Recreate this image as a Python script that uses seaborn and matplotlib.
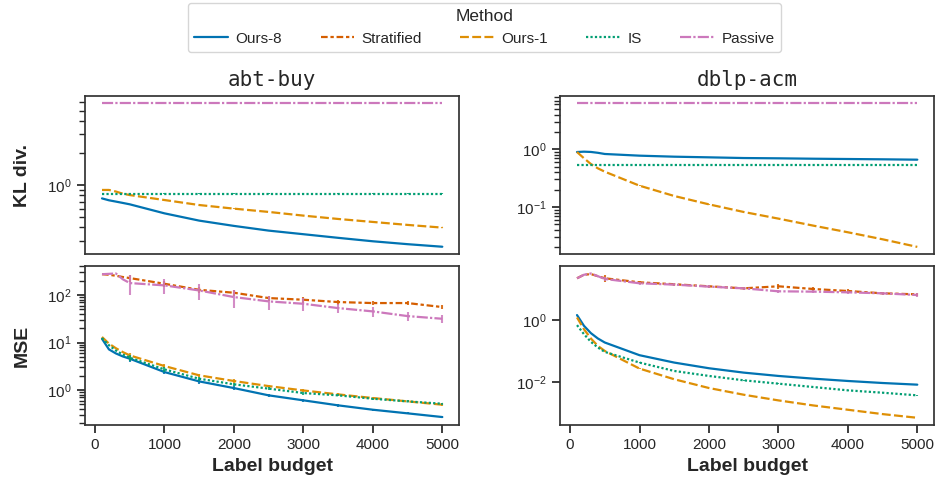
import matplotlib
matplotlib.use("Agg")
import matplotlib.pyplot as plt
from matplotlib.lines import Line2D
from matplotlib.ticker import NullLocator
import pandas as pd
import seaborn as sns

# ---------------------------------------------------------------------------
# Data
# ---------------------------------------------------------------------------
BUDGET = [100, 200, 300, 400, 500, 1000, 1500, 2000, 2500, 3000, 3500, 4000, 4500, 5000]
ERR_BUDGET = [500, 1000, 1500, 2000, 2500, 3000, 3500, 4000, 4500, 5000]

METHODS = ["Ours-8", "Stratified", "Ours-1", "IS", "Passive"]
DATASETS = ["abt-buy", "dblp-acm"]
METRICS = ["KL div.", "MSE"]
X_TICKS = [0, 1000, 2000, 3000, 4000, 5000]
DBLP_MSE_TICKS = [1e-2, 1e0]

# KL divergence on abt-buy
ABT_KL = {
    "Ours-8": [0.75, 0.72, 0.70, 0.68, 0.66, 0.543, 0.464, 0.414, 0.374, 0.346, 0.320, 0.297, 0.279, 0.264],
    "Ours-1": [0.90, 0.90, 0.87, 0.83, 0.806, 0.724, 0.650, 0.601, 0.560, 0.517, 0.481, 0.451, 0.423, 0.399],
    "IS": [0.83, 0.83, 0.83, 0.83, 0.83, 0.83, 0.83, 0.83, 0.83, 0.83, 0.83, 0.83, 0.83, 0.83],
    "Passive": [5.9, 5.9, 5.9, 5.9, 5.9, 5.9, 5.9, 5.9, 5.9, 5.9, 5.9, 5.9, 5.9, 5.9],
}
ABT_KL_ERR = {
    "Ours-8": [0.006, 0.005, 0.004, 0.004, 0.003, 0.003, 0.003, 0.003, 0.003, 0.003],
    "Ours-1": [0.004, 0.004, 0.003, 0.003, 0.003, 0.003, 0.003, 0.003, 0.003, 0.003],
    "IS": [0.004, 0.004, 0.004, 0.004, 0.004, 0.004, 0.004, 0.004, 0.004, 0.004],
    "Passive": [0.02, 0.02, 0.02, 0.02, 0.02, 0.02, 0.02, 0.02, 0.02, 0.02],
}

# KL divergence on dblp-acm
DBLP_KL = {
    "Ours-8": [0.898, 0.91, 0.90, 0.87, 0.83, 0.776, 0.745, 0.726, 0.706, 0.698, 0.687, 0.679, 0.671, 0.661],
    "Ours-1": [0.898, 0.70, 0.556, 0.468, 0.409, 0.234, 0.155, 0.111, 0.0819, 0.0628, 0.0475, 0.0364, 0.0275, 0.0203],
    "IS": [0.535, 0.535, 0.535, 0.535, 0.535, 0.535, 0.535, 0.535, 0.535, 0.535, 0.535, 0.535, 0.535, 0.535],
    "Passive": [6.4, 6.4, 6.4, 6.4, 6.4, 6.4, 6.4, 6.4, 6.4, 6.4, 6.4, 6.4, 6.4, 6.4],
}
DBLP_KL_ERR = {
    "Ours-8": [0.01, 0.008, 0.007, 0.006, 0.006, 0.005, 0.005, 0.005, 0.005, 0.005],
    "Ours-1": [0.003, 0.002, 0.001, 0.001, 0.001, 0.001, 0.0005, 0.0005, 0.0004, 0.0003],
    "IS": [0.003, 0.003, 0.003, 0.003, 0.003, 0.003, 0.003, 0.003, 0.003, 0.003],
    "Passive": [0.02, 0.02, 0.02, 0.02, 0.02, 0.02, 0.02, 0.02, 0.02, 0.02],
}

# Mean squared error on abt-buy
ABT_MSE = {
    "Ours-8": [12.0, 7.18, 5.9, 5.1, 4.57, 2.39, 1.52, 1.10, 0.773, 0.607, 0.476, 0.385, 0.323, 0.270],
    "Stratified": [275, 268, 255, 240, 228, 173, 129, 112, 86.5, 79.8, 71.3, 67.9, 67.9, 55.9],
    "Ours-1": [13.1, 9.5, 7.6, 6.3, 5.37, 3.20, 2.04, 1.55, 1.21, 0.98, 0.81, 0.679, 0.577, 0.491],
    "IS": [12.4, 8.8, 6.8, 5.6, 4.80, 2.72, 1.73, 1.32, 1.07, 0.865, 0.773, 0.656, 0.577, 0.515],
    "Passive": [275, 280, 285, 215, 179, 160, 125, 90.8, 73.6, 65.6, 53.2, 45.3, 36.1, 31.7],
}
ABT_MSE_ERR = {
    "Ours-8": [0.6, 0.25, 0.15, 0.1, 0.06, 0.04, 0.03, 0.02, 0.015, 0.012],
    "Stratified": [40, 25, 20, 17, 10, 12, 8, 7, 7, 6],
    "Ours-1": [0.6, 0.3, 0.18, 0.12, 0.08, 0.06, 0.04, 0.03, 0.03, 0.03],
    "IS": [0.7, 0.3, 0.18, 0.12, 0.09, 0.06, 0.04, 0.04, 0.03, 0.03],
    "Passive": [80, 55, 45, 37, 24, 20, 12, 10, 7, 6],
}

# Mean squared error on dblp-acm
DBLP_MSE = {
    "Ours-8": [1.49, 0.67, 0.388, 0.261, 0.193, 0.075, 0.0433, 0.0284, 0.0205, 0.0160, 0.0131, 0.0110, 0.00946, 0.00836],
    "Stratified": [23.1, 30.0, 31.5, 27.0, 23.1, 17.1, 14.8, 12.7, 10.9, 12.7, 10.4, 8.95, 7.53, 6.98],
    "Ours-1": [1.25, 0.52, 0.26, 0.15, 0.103, 0.0277, 0.0125, 0.00651, 0.00395, 0.00259, 0.00178, 0.00129, 0.000933, 0.000709],
    "IS": [0.705, 0.36, 0.203, 0.133, 0.096, 0.0433, 0.0232, 0.0160, 0.01155, 0.00901, 0.00702, 0.00547, 0.00459, 0.00377],
    "Passive": [23.0, 30.0, 33.0, 27.0, 22.0, 15.9, 14.4, 12.4, 10.9, 8.75, 8.53, 8.1, 7.53, 6.63],
}
DBLP_MSE_ERR = {
    "Ours-8": [0.004, 0.0015, 0.0008, 0.0005, 0.0004, 0.0003, 0.0002, 0.0002, 0.0002, 0.0001],
    "Stratified": [6, 2, 2, 1.5, 1, 2.5, 1.5, 1.2, 1, 1],
    "Ours-1": [0.002, 0.0005, 0.0002, 0.0001, 0.00007, 0.00005, 0.00003, 0.00002, 0.00002, 0.00001],
    "IS": [0.002, 0.0009, 0.0005, 0.0003, 0.0002, 0.0002, 0.0001, 0.0001, 0.0001, 0.0001],
    "Passive": [3, 2, 1.5, 1.3, 1, 1, 1, 1, 1, 1],
}

PANELS = {
    ("KL div.", "abt-buy"): (ABT_KL, ABT_KL_ERR),
    ("KL div.", "dblp-acm"): (DBLP_KL, DBLP_KL_ERR),
    ("MSE", "abt-buy"): (ABT_MSE, ABT_MSE_ERR),
    ("MSE", "dblp-acm"): (DBLP_MSE, DBLP_MSE_ERR),
}

# ---------------------------------------------------------------------------
# Style
# ---------------------------------------------------------------------------
sns.set_theme(style="ticks", rc={
    "axes.edgecolor": ".2",
    "axes.linewidth": 1.25,
    "xtick.major.size": 6,
    "ytick.major.size": 6,
    "ytick.minor.size": 4,
    "xtick.labelsize": 11,
    "ytick.labelsize": 11,
    "lines.linewidth": 1.6,
})
plt.rcParams["font.family"] = ["Liberation Sans", "DejaVu Sans"]

cb = sns.color_palette("colorblind")
COLORS = {"Ours-8": cb[0], "Ours-1": cb[1], "IS": cb[2], "Stratified": cb[3], "Passive": cb[4]}
DASHES = {"Ours-8": "", "Ours-1": (4, 1.5), "IS": (1, 1),
          "Stratified": (3, 1.25, 1.5, 1.25), "Passive": (5, 1, 1, 1)}

fig, axes = plt.subplots(2, 2, figsize=(9.39, 4.95), dpi=100, sharex="col")
fig.subplots_adjust(left=0.0905, right=0.995, bottom=0.141, top=0.807,
                    wspace=0.269, hspace=0.074)

for r, metric in enumerate(METRICS):
    for c, dataset in enumerate(DATASETS):
        ax = axes[r, c]
        values, errors = PANELS[(metric, dataset)]
        present = [m for m in METHODS if m in values]
        df = pd.DataFrame(
            [(m, x, y) for m in present for x, y in zip(BUDGET, values[m])],
            columns=["Method", "Label budget", metric],
        )
        sns.lineplot(data=df, x="Label budget", y=metric, hue="Method", style="Method",
                     hue_order=present, style_order=present,
                     palette=COLORS, dashes=DASHES, legend=False, ax=ax)
        for m in present:
            ax.errorbar(ERR_BUDGET, values[m][4:], yerr=errors[m], fmt="none",
                        ecolor=COLORS[m], elinewidth=1.5, capsize=0, alpha=0.85)
        ax.set_yscale("log")
        for s in ax.spines.values():
            s.set_visible(True)

        if r == 0:
            ax.set_title(dataset, fontfamily="DejaVu Sans Mono", fontsize=15, pad=7)
            ax.tick_params(axis="x", which="both", length=0, labelbottom=False)
            ax.set_xlabel("")
        else:
            ax.set_xticks(X_TICKS)
            ax.set_xlabel("Label budget", fontsize=14, fontweight="bold")
        if c == 0:
            ax.set_ylabel(metric, fontsize=14, fontweight="bold")
            ax.yaxis.set_label_coords(-0.145, 0.5)
        else:
            ax.set_ylabel("")

# every other decade on the wide-range MSE axis, without minor ticks
axes[1, 1].set_yticks(DBLP_MSE_TICKS)
axes[1, 1].yaxis.set_minor_locator(NullLocator())

handles = []
for m in METHODS:
    h = Line2D([], [], color=COLORS[m], lw=1.6)
    if DASHES[m]:
        h.set_dashes(DASHES[m])
    handles.append(h)

leg = fig.legend(handles, METHODS, loc="upper center", bbox_to_anchor=(0.516, 1.0),
                 ncol=5, title="Method", fontsize=11, title_fontsize=12.5,
                 frameon=True, handlelength=2.2, handletextpad=0.5, columnspacing=2.5,
                 borderpad=0.4, borderaxespad=0.2)
leg.get_frame().set_edgecolor("0.8")

fig.savefig("out.png", dpi=100)
